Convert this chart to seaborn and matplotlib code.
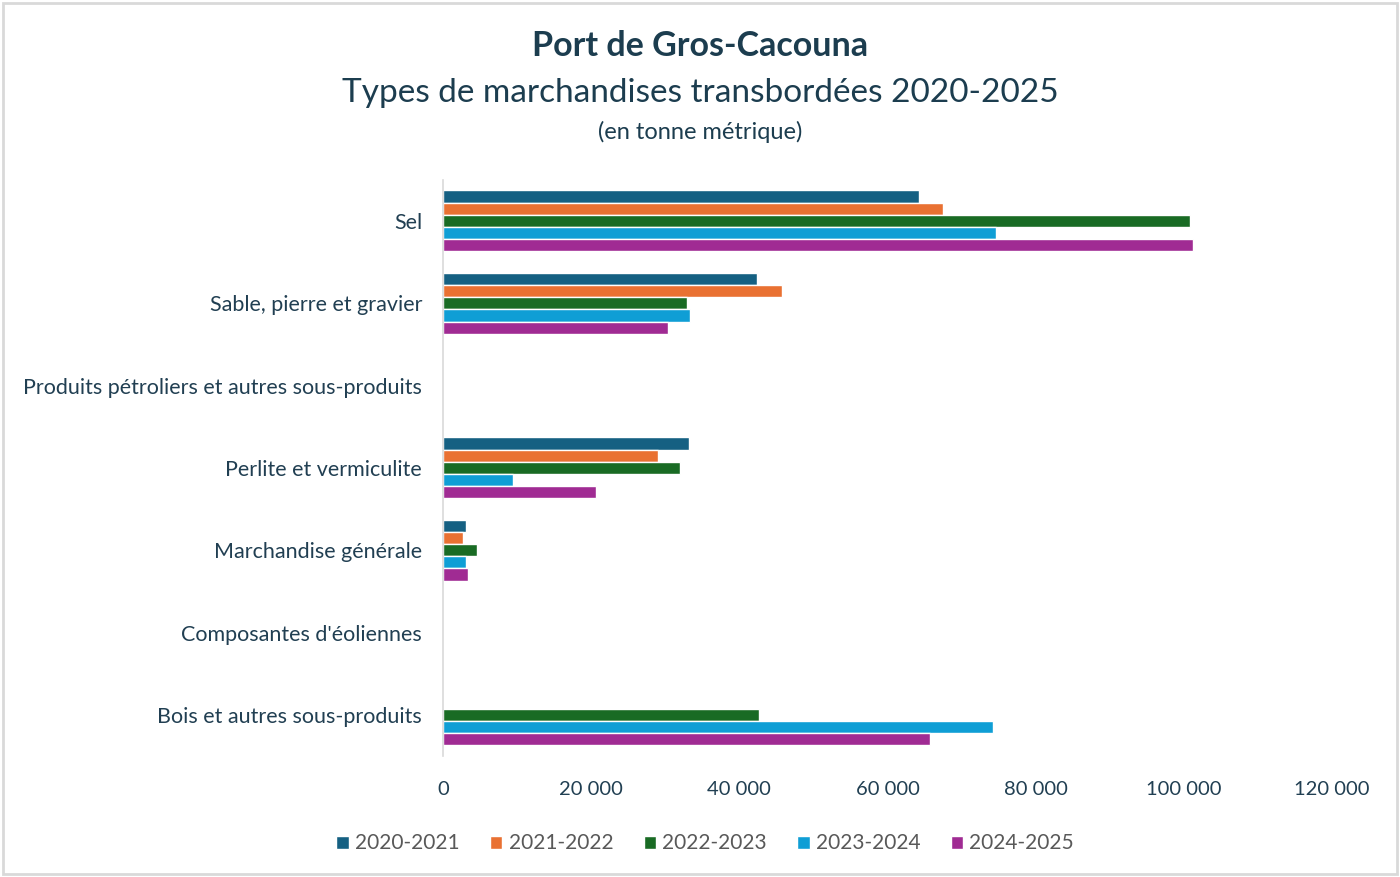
import pandas as pd
import matplotlib.pyplot as plt
import seaborn as sns

# données (tonnes métriques)
categories = [
    "Sel",
    "Sable, pierre et gravier",
    "Produits pétroliers et autres sous-produits",
    "Perlite et vermiculite",
    "Marchandise générale",
    "Composantes d'éoliennes",
    "Bois et autres sous-produits",
]
periodes = ["2020-2021", "2021-2022", "2022-2023", "2023-2024", "2024-2025"]

v_2020_2021 = [64200, 42400, 0, 33200, 3100, 0, 0]
v_2021_2022 = [67500, 45700, 0, 29000, 2700, 0, 0]
v_2022_2023 = [100900, 33000, 0, 32000, 4600, 0, 42600]
v_2023_2024 = [74600, 33300, 0, 9500, 3100, 0, 74200]
v_2024_2025 = [101300, 30400, 0, 20600, 3400, 0, 65700]

couleurs = ["#156082", "#E97132", "#196B24", "#0F9ED5", "#A02B93"]

series = [v_2020_2021, v_2021_2022, v_2022_2023, v_2023_2024, v_2024_2025]
rows = []
for p, vals in zip(periodes, series):
    for c, v in zip(categories, vals):
        rows.append({"categorie": c, "periode": p, "tonnes": v})
df = pd.DataFrame(rows)

sns.set_style("white")
plt.rcParams["font.family"] = ["Lato", "DejaVu Sans"]

fig = plt.figure(figsize=(14, 8.77), dpi=100)
ax = fig.add_axes([0.3164, 0.138, 0.635, 0.657])

sns.barplot(data=df, y="categorie", x="tonnes", hue="periode", orient="h",
            palette=couleurs, order=categories, hue_order=periodes,
            width=0.74, saturation=1, errorbar=None, ax=ax)

ax.set_xlim(0, 120000)
ax.set_xticks(range(0, 120001, 20000))
ax.set_xticklabels([f"{t:,}".replace(",", " ") for t in range(0, 120001, 20000)])
ax.set_xlabel("")
ax.set_ylabel("")
ax.tick_params(axis="x", length=0, labelsize=14.5, colors="#213F52", pad=18)
ax.tick_params(axis="y", length=0, labelsize=15.5, colors="#213F52", pad=15)
for s in ["top", "right", "bottom"]:
    ax.spines[s].set_visible(False)
ax.spines["left"].set_color("#D9D9D9")
ax.spines["left"].set_linewidth(1.2)

ax.legend(loc="upper center", bbox_to_anchor=(0.295, -0.102), ncol=5, frameon=False,
          fontsize=15, labelcolor="#595959", handlelength=0.6, handleheight=0.6,
          handletextpad=0.3, columnspacing=1.45)

fig.text(0.5, 0.947, "Port de Gros-Cacouna", ha="center", va="center",
         fontsize=24.5, fontweight="bold", color="#1C3D4F")
fig.text(0.5, 0.894, "Types de marchandises transbordées 2020-2025", ha="center",
         va="center", fontsize=24, color="#1C3D4F")
fig.text(0.5, 0.849, "(en tonne métrique)", ha="center", va="center",
         fontsize=17, color="#1C3D4F")

fig.patches.append(plt.Rectangle((0.002, 0.003), 0.996, 0.994, transform=fig.transFigure,
                                 fill=False, edgecolor="#D9D9D9", linewidth=2))

fig.savefig("out.png", dpi=100)
